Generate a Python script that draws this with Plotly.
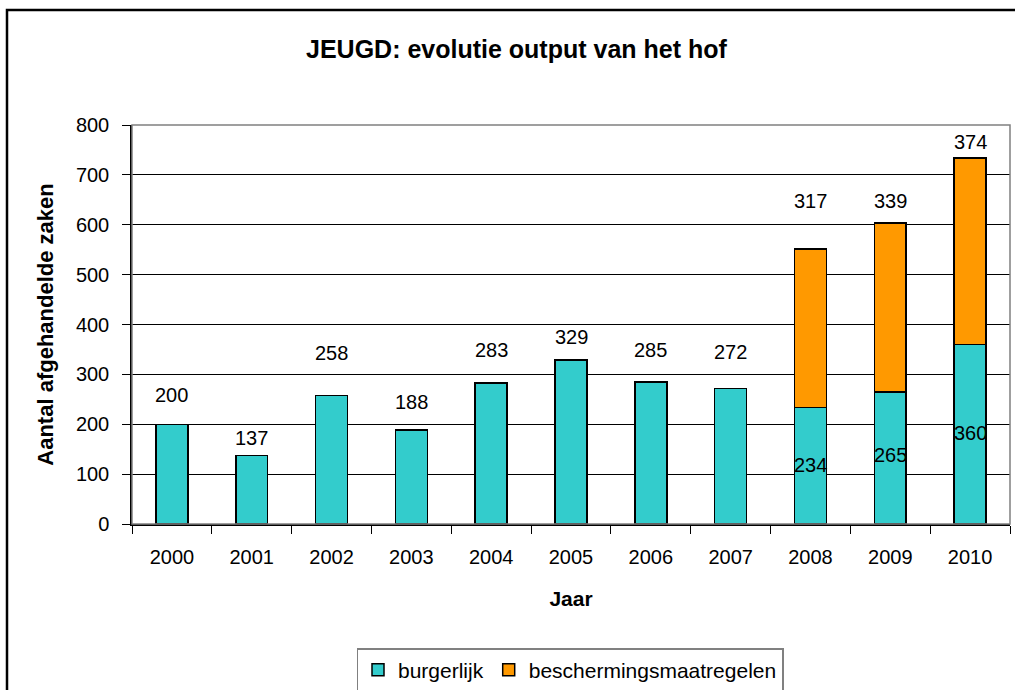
import plotly.graph_objects as go

years = ["2000", "2001", "2002", "2003", "2004", "2005", "2006", "2007", "2008", "2009", "2010"]
burgerlijk = [200, 137, 258, 188, 283, 329, 285, 272, 234, 265, 360]
bescherming = [None, None, None, None, None, None, None, None, 317, 339, 374]

# label heights (data units) as placed in the reference
label_y_burg = [258, 173, 342, 244, 348, 375, 348, 345, 118, 138, 183]
label_y_besch = [None, None, None, None, None, None, None, None, 647, 647, 766]

TEAL = "#33CCCC"
ORANGE = "#FF9900"
FONT = "Liberation Sans, Arial, sans-serif"

W, H = 1015, 690
L, R, T, B = 132, 5, 125, 166
pw = W - L - R
ph = H - T - B


def px_x(px):
    return (px - L) / pw


def px_y(py):
    return (H - B - py) / ph


fig = go.Figure()
fig.add_trace(go.Bar(x=years, y=burgerlijk, name="burgerlijk",
                     marker=dict(color=TEAL, line=dict(color="black", width=1.5)),
                     width=0.4))
fig.add_trace(go.Bar(x=years, y=bescherming, name="beschermingsmaatregelen",
                     marker=dict(color=ORANGE, line=dict(color="black", width=1.5)),
                     width=0.4))

ann = []
for i, (v, ly) in enumerate(zip(burgerlijk, label_y_burg)):
    ann.append(dict(x=i, y=ly, xref="x", yref="y", text=str(v), showarrow=False,
                    font=dict(family=FONT, size=20, color="black")))
for i, (v, ly) in enumerate(zip(bescherming, label_y_besch)):
    if v is not None:
        ann.append(dict(x=i, y=ly, xref="x", yref="y", text=str(v), showarrow=False,
                        font=dict(family=FONT, size=20, color="black")))

# title
ann.append(dict(xref="paper", yref="paper", x=px_x(517), y=px_y(49),
                text="<b>JEUGD: evolutie output van het hof</b>", showarrow=False,
                font=dict(family=FONT, size=25, color="black"), xanchor="center", yanchor="middle"))

shapes = [
    # outer frame
    dict(type="rect", xref="paper", yref="paper",
         x0=px_x(7), x1=px_x(1030), y0=px_y(720), y1=px_y(10),
         line=dict(color="black", width=2.5), layer="below"),
    # plot area border
    dict(type="rect", xref="paper", yref="paper", x0=0, x1=1, y0=0, y1=1,
         line=dict(color="#808080", width=1.5), layer="above"),
]

fig.update_layout(
    template="none",
    width=W, height=H,
    margin=dict(l=L, r=R, t=T, b=B, autoexpand=False),
    paper_bgcolor="white", plot_bgcolor="white",
    barmode="stack", bargap=0.6,
    font=dict(family=FONT, size=20, color="black"),
    showlegend=True,
    legend=dict(orientation="h", x=px_x(570), xanchor="center",
                y=px_y(648), yanchor="top", traceorder="normal",
                bordercolor="#808080", borderwidth=1.5,
                font=dict(family=FONT, size=21, color="black"),
                itemwidth=30, tracegroupgap=0),
    annotations=ann,
    shapes=shapes,
)
fig.update_xaxes(type="category", range=[-0.5, 10.5], automargin=False,
                 showline=True, linecolor="black", linewidth=1.5,
                 ticks="outside", tickson="boundaries", ticklen=8, tickcolor="black",
                 ticklabelstandoff=14,
                 tickfont=dict(family=FONT, size=20),
                 title=dict(text="<b>Jaar</b>", font=dict(family=FONT, size=21), standoff=25),
                 showgrid=False, zeroline=False)
fig.update_yaxes(range=[0, 800], dtick=100, automargin=False,
                 showline=True, linecolor="black", linewidth=1.5,
                 ticks="outside", ticklen=8, tickcolor="black", ticklabelstandoff=9,
                 tickfont=dict(family=FONT, size=20),
                 showgrid=True, gridcolor="black", gridwidth=1, zeroline=False,
                 title=dict(text="<b>Aantal afgehandelde zaken</b>", font=dict(family=FONT, size=22), standoff=16))

fig.write_html("out.html", post_script="document.body.style.margin='0px';",
               config={"displayModeBar": False})
